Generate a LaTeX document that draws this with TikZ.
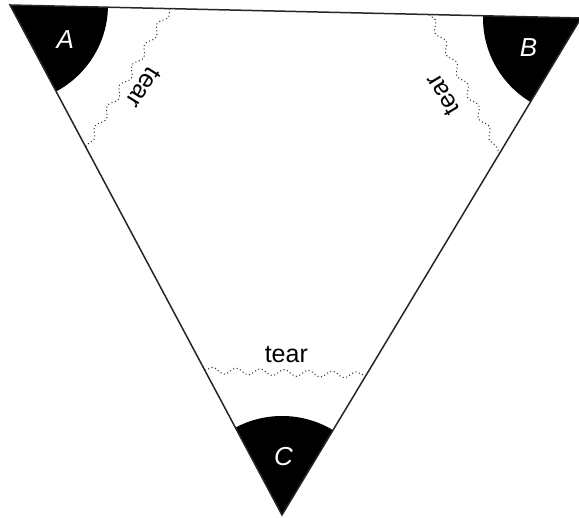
\documentclass[tikz,border=0pt]{standalone}
\usepackage{fontspec}
\setmainfont{Liberation Sans}
\usetikzlibrary{calc,decorations.pathmorphing}
\begin{document}
\begin{tikzpicture}[x=1pt,y=1pt,
  edge/.style={line width=1.5pt,line join=miter,black!85},
  sector/.style={fill=black},
  corner/.style={text=white,font=\fontsize{26}{30}\selectfont\itshape,inner sep=0pt},
  tearline/.style={decorate,decoration={snake,segment length=24pt,amplitude=3.2pt},
    line width=1pt,dash pattern=on 1pt off 2.6pt,black!85},
  tearlabel/.style={font=\fontsize{25}{29}\selectfont,inner sep=0pt}]
\useasboundingbox (0,0) rectangle (579,518);
\clip (0,0) rectangle (579,518);
\coordinate (A) at (10,513);
\coordinate (B) at (581,500);
\coordinate (C) at (282,3);
% sectors
\begin{scope}
  \clip (A) -- (B) -- (C) -- cycle;
  \fill[sector] (A) circle (98);
  \fill[sector] (B) circle (98);
  \fill[sector] (C) circle (99);
\end{scope}
% triangle
\draw[edge] (A) -- (B) -- (C) -- cycle;
% corner labels
\node[corner] (la) at ($(A)!65pt!($(B)!0.5!(C)$)$) {A};
\node[corner] (lb) at ($(B)!60pt!($(A)!0.5!(C)$)$) {B};
\node[corner] (lc) at ($(C)!58pt!($(A)!0.5!(B)$)$) {C};
% tear lines
\coordinate (a1) at ($(A)!160pt!(B)$);
\coordinate (a2) at ($(A)!161pt!(C)$);
\coordinate (b1) at ($(B)!152pt!(A)$);
\coordinate (b2) at ($(B)!158pt!(C)$);
\coordinate (c1) at ($(C)!164pt!(A)$);
\coordinate (c2) at ($(C)!163pt!(B)$);
\draw[tearline] (a1) -- (a2);
\draw[tearline] (b1) -- (b2);
\draw[tearline] (c1) -- (c2);
% tear labels
\node[tearlabel,rotate=-122] (ta) at ($(A)!157pt!($(B)!0.5!(C)$)$) {tear};
\node[tearlabel,rotate=121] (tb) at ($(B)!158pt!($(A)!0.5!(C)$)$) {tear};
\node[tearlabel] (tc) at ($(C)!161pt!($(A)!0.5!(B)$)$) {tear};
\end{tikzpicture}
\end{document}
